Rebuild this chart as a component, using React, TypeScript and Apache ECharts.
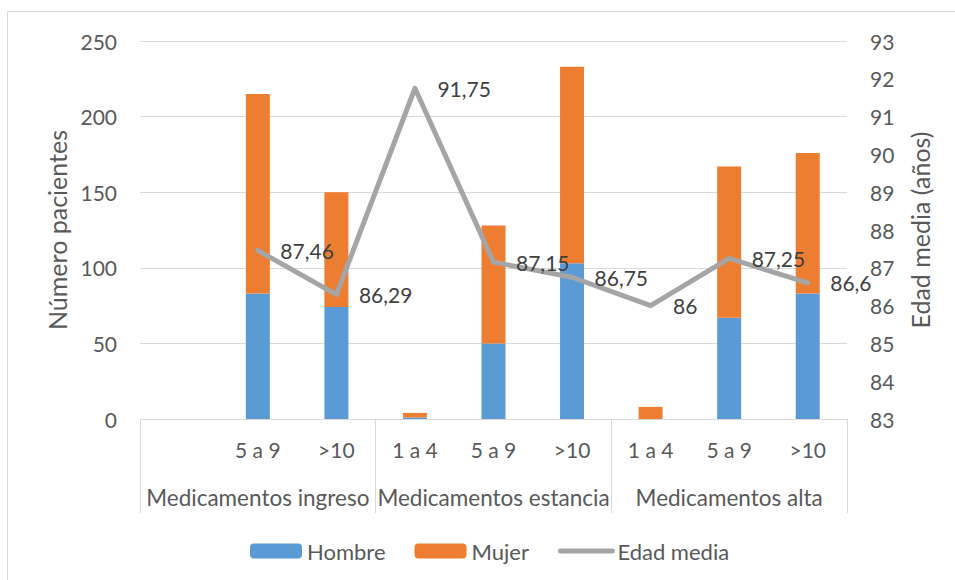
import React, { useEffect, useRef } from "react";
import * as echarts from "echarts";

// Sub-category labels (first slot of "ingreso" is empty)
const subLabels = ["", "5 a 9", ">10", "1 a 4", "5 a 9", ">10", "1 a 4", "5 a 9", ">10"];
const groupLabels = ["Medicamentos ingreso", "Medicamentos estancia", "Medicamentos alta"];

// Patient counts per slot
const hombre = [0, 83, 74, 1, 50, 103, 0, 67, 83];
const mujer = [0, 132, 76, 3, 78, 130, 8, 100, 93];

// Mean age per slot
const edadMedia = [null, 87.46, 86.29, 91.75, 87.15, 86.75, 86, 87.25, 86.6];

const FONT = "Lato";
const AXIS_TEXT = "#595959";
const GRID_LINE = "#d9d9d9";
const LINE_GRAY = "#a5a5a5";

export default function App() {
  const ref = useRef<HTMLDivElement>(null);

  useEffect(() => {
    if (!ref.current) return;
    const chart = echarts.init(ref.current, undefined, { renderer: "svg" });
    chart.setOption({
      animation: false,
      backgroundColor: "#ffffff",
      textStyle: { fontFamily: FONT },
      graphic: [
        {
          type: "rect",
          shape: { x: 7.5, y: 11.5, width: 1000, height: 1000 },
          style: { fill: "none", stroke: GRID_LINE, lineWidth: 1 },
          silent: true,
        },
      ],
      grid: { left: 140, right: 108, top: 41, bottom: 161, containLabel: false },
      legend: {
        left: 245,
        top: 535,
        itemWidth: 52,
        itemHeight: 15,
        itemGap: 29,
        textStyle: { fontFamily: FONT, fontSize: 22, color: AXIS_TEXT },
        data: [
          "Hombre",
          "Mujer",
          {
            name: "Edad media",
            itemStyle: { opacity: 0 },
            lineStyle: { width: 5, cap: "round", color: LINE_GRAY },
          },
        ],
      },
      xAxis: [
        {
          type: "category",
          data: subLabels,
          position: "bottom",
          axisLine: { show: true, lineStyle: { color: GRID_LINE, width: 1 } },
          axisTick: { show: false },
          axisLabel: { interval: 0, margin: 20, fontFamily: FONT, fontSize: 21, color: AXIS_TEXT },
        },
        {
          type: "category",
          data: groupLabels,
          position: "bottom",
          offset: 94,
          axisLine: { show: false },
          axisTick: { show: true, inside: true, length: 94, lineStyle: { color: GRID_LINE, width: 1 } },
          axisLabel: { interval: 0, margin: -27, fontFamily: FONT, fontSize: 22.5, color: AXIS_TEXT },
        },
      ],
      yAxis: [
        {
          type: "value",
          min: 0,
          max: 250,
          interval: 50,
          name: "Número pacientes",
          nameLocation: "middle",
          nameGap: 68,
          nameTextStyle: { fontFamily: FONT, fontSize: 25, color: AXIS_TEXT },
          axisLine: { show: false },
          axisTick: { show: false },
          axisLabel: { margin: 23, fontFamily: FONT, fontSize: 21, color: AXIS_TEXT },
          splitLine: { show: true, lineStyle: { color: GRID_LINE, width: 1 } },
        },
        {
          type: "value",
          min: 83,
          max: 93,
          interval: 1,
          name: "Edad media (años)",
          nameLocation: "middle",
          nameGap: 60,
          nameTextStyle: { fontFamily: FONT, fontSize: 25, color: AXIS_TEXT },
          axisLine: { show: false },
          axisTick: { show: false },
          axisLabel: { margin: 23, fontFamily: FONT, fontSize: 21, color: AXIS_TEXT },
          splitLine: { show: false },
        },
      ],
      series: [
        {
          name: "Hombre",
          type: "bar",
          stack: "total",
          barWidth: 24,
          data: hombre,
          itemStyle: { color: "#5b9bd5" },
        },
        {
          name: "Mujer",
          type: "bar",
          stack: "total",
          barWidth: 24,
          data: mujer,
          itemStyle: { color: "#ed7d31" },
        },
        {
          name: "Edad media",
          type: "line",
          yAxisIndex: 1,
          data: edadMedia,
          symbol: "circle",
          symbolSize: 1,
          showSymbol: true,
          lineStyle: { color: LINE_GRAY, width: 5, cap: "round", join: "round" },
          itemStyle: { color: LINE_GRAY },
          label: {
            show: true,
            position: "right",
            distance: 22,
            fontFamily: FONT,
            fontSize: 21,
            color: "#404040",
            formatter: (p: any) => String(p.value).replace(".", ","),
          },
          z: 5,
        },
      ],
    });
    return () => chart.dispose();
  }, []);

  return (
    <div
      ref={ref}
      style={{ position: "fixed", left: 0, top: 0, width: 955, height: 580 }}
    />
  );
}
